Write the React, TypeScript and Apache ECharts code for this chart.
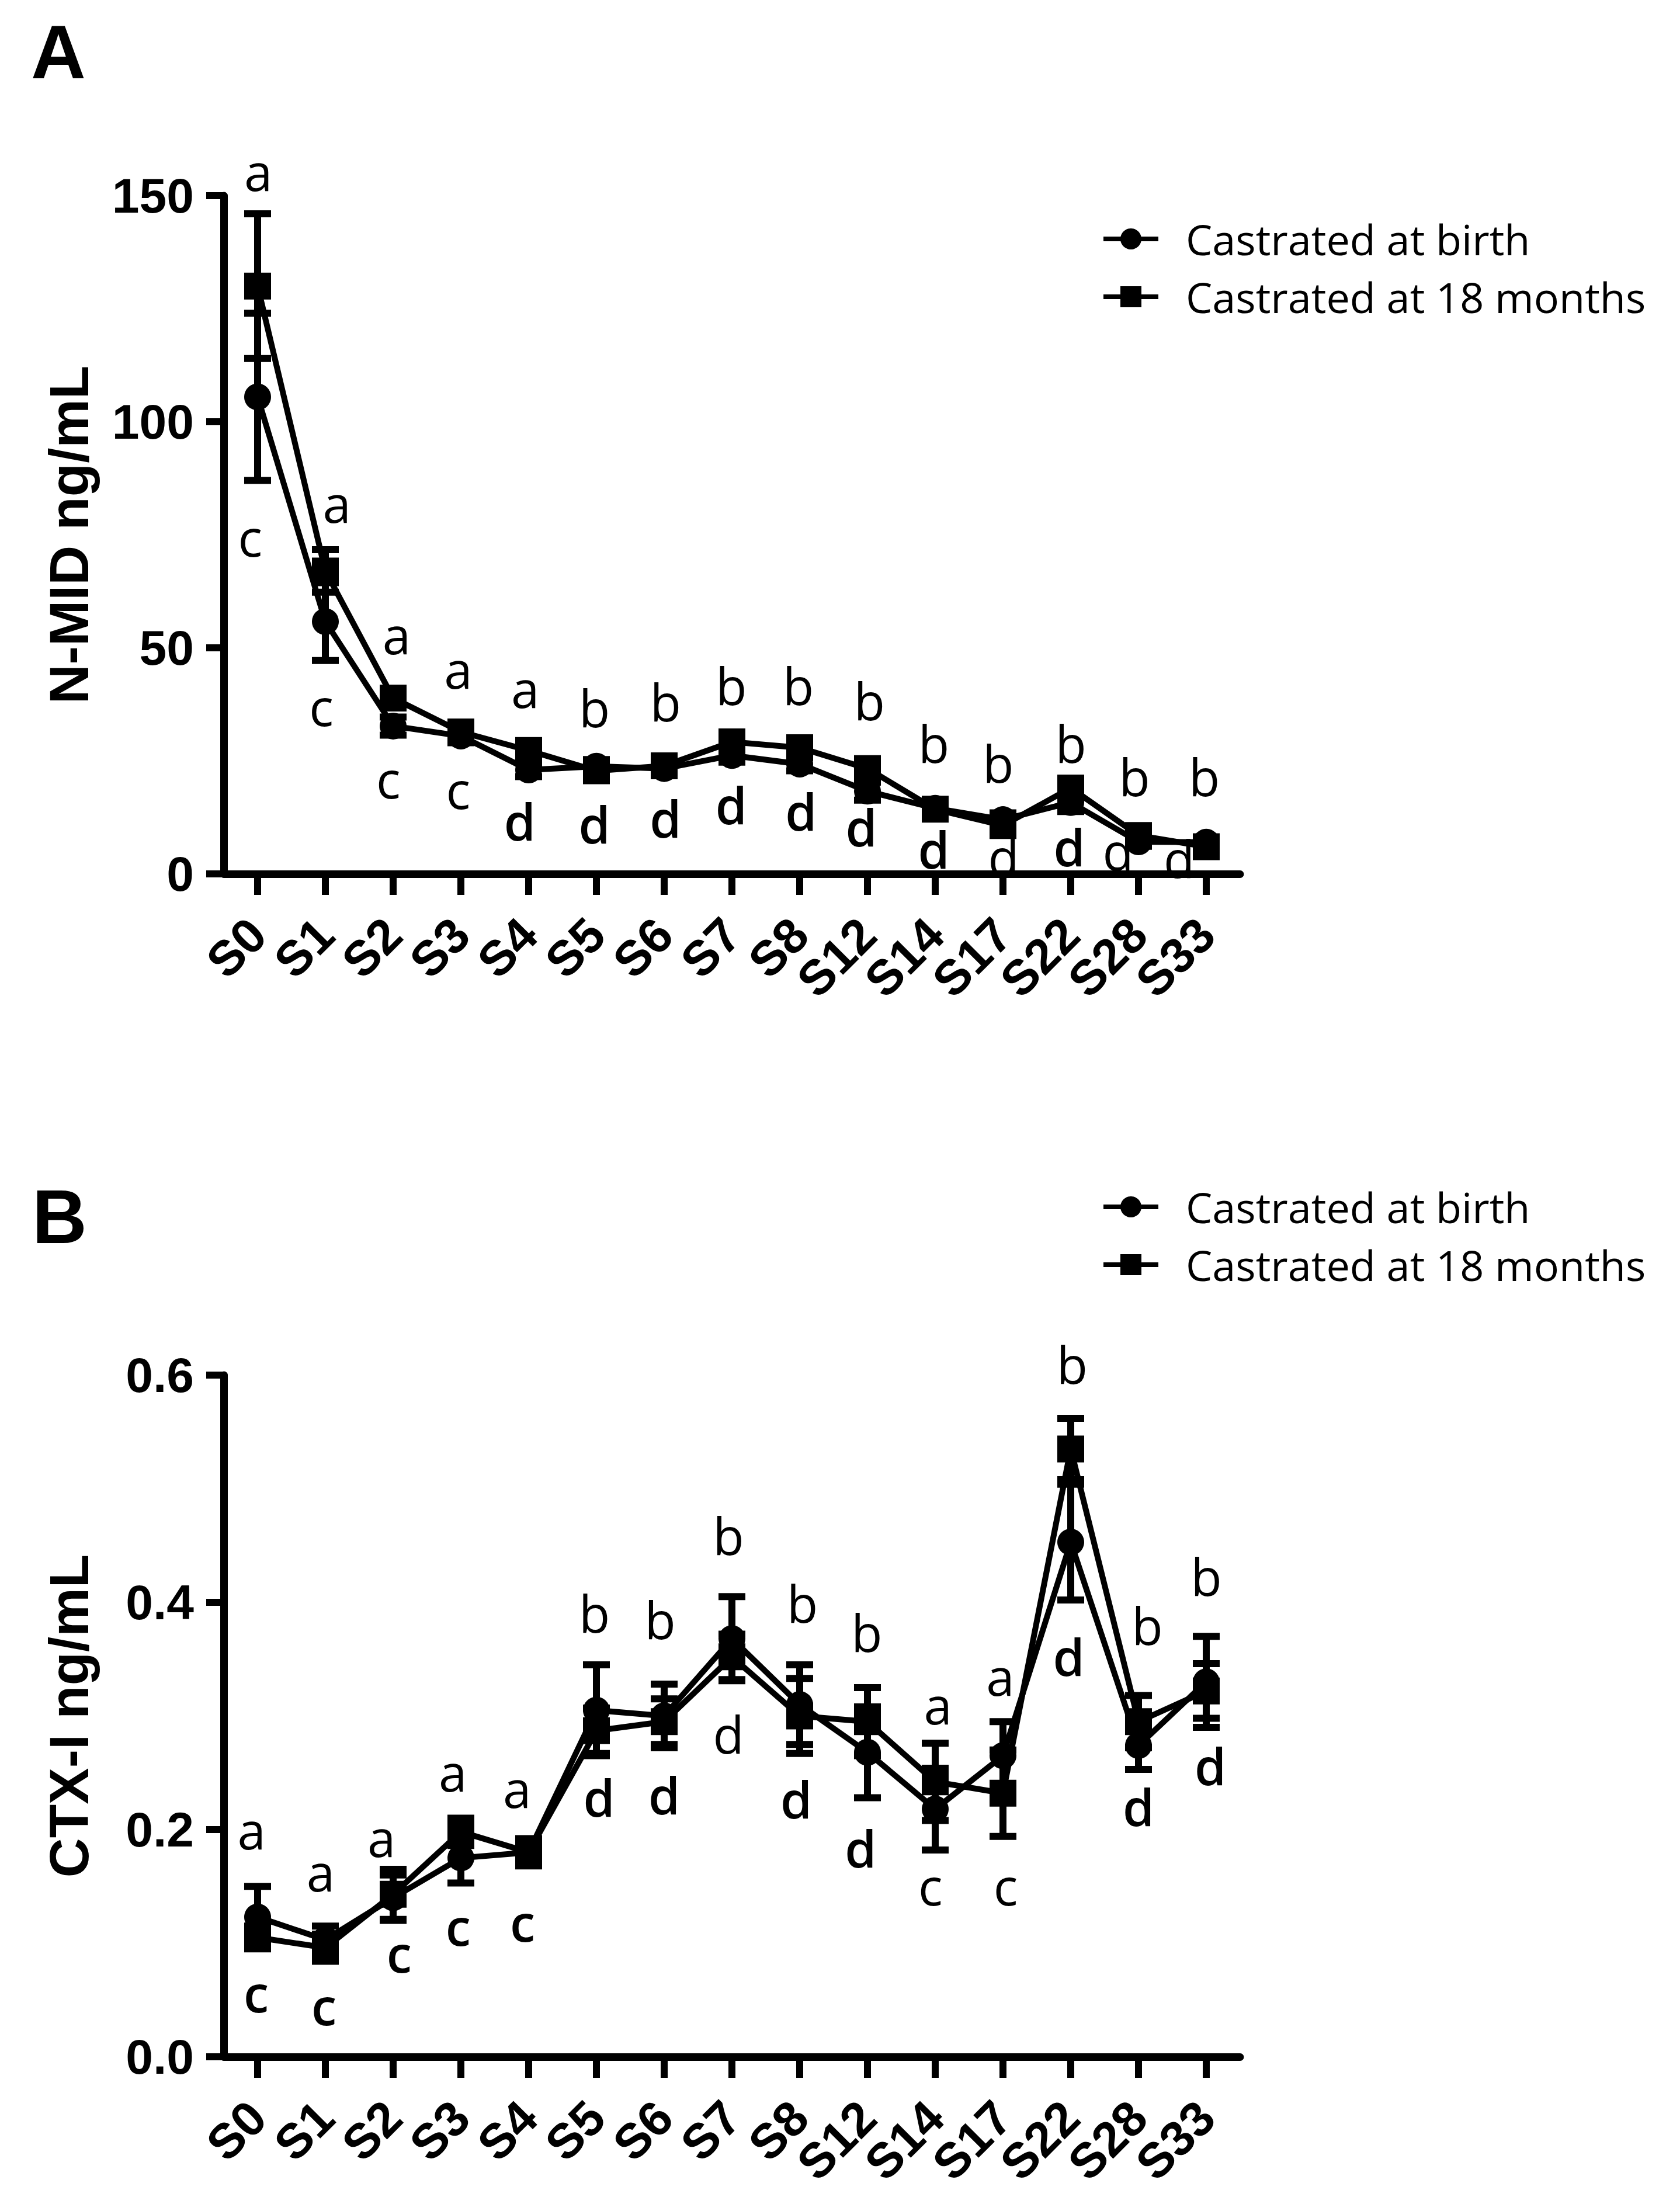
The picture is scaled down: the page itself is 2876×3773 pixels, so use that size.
import React, { useEffect, useRef } from "react";
import * as echarts from "echarts";

const categories = ["S0", "S1", "S2", "S3", "S4", "S5", "S6", "S7", "S8", "S12", "S14", "S17", "S22", "S28", "S33"];
const seriesNames = ["Castrated at birth", "Castrated at 18 months"];

// Panel A: N-MID ng/mL (mean, error)
const nmidBirth = [105.5, 55.8, 32.7, 30.5, 23.0, 23.8, 23.3, 26.2, 24.3, 18.3, 14.5, 12.0, 15.8, 7.1, 7.0];
const nmidBirthErr = [18.5, 8.6, 2.0, 1.5, 1.5, 1.5, 1.5, 1.5, 1.5, 2.0, 1.5, 1.5, 2.0, 1.0, 1.0];
const nmid18m = [130.0, 67.0, 38.9, 31.4, 27.3, 22.8, 23.9, 29.2, 27.9, 23.3, 14.3, 10.7, 19.0, 8.5, 6.0];
const nmid18mErr = [16.0, 4.7, 2.0, 1.5, 1.5, 1.5, 1.5, 1.5, 1.5, 2.0, 1.5, 1.5, 2.0, 1.0, 1.0];
const nmidTicks = [0, 50, 100, 150];

// Panel B: CTX-I ng/mL (mean, error)
const ctxBirth = [0.123, 0.103, 0.14, 0.175, 0.18, 0.305, 0.3, 0.368, 0.31, 0.268, 0.218, 0.265, 0.453, 0.274, 0.33];
const ctxBirthErr = [0.027, 0.012, 0.02, 0.022, 0.01, 0.04, 0.028, 0.037, 0.035, 0.04, 0.036, 0.03, 0.051, 0.021, 0.04];
const ctx18m = [0.105, 0.096, 0.143, 0.198, 0.18, 0.287, 0.295, 0.352, 0.3, 0.295, 0.242, 0.232, 0.535, 0.295, 0.322];
const ctx18mErr = [0.01, 0.012, 0.022, 0.012, 0.012, 0.02, 0.02, 0.02, 0.033, 0.03, 0.034, 0.038, 0.027, 0.023, 0.024];
const ctxTicks = [0, 0.2, 0.4, 0.6];

// Significance letters: letter, x offset (category units), y value, bold flag
const lettersATop = ["a", "a", "a", "a", "a", "b", "b", "b", "b", "b", "b", "b", "b", "b", "b"];
const lettersATopY = [155.4, 82, 53, 45.3, 41.1, 36.8, 38.1, 41.7, 41.7, 38.4, 28.9, 24.6, 28.9, 21.6, 21.6];
const lettersATopDx = [0.01, 0.17, 0.05, -0.04, -0.05, -0.03, 0.02, -0.01, -0.02, 0.03, -0.02, -0.07, 0, -0.06, -0.03];
const lettersABot = ["c", "c", "c", "c", "d", "d", "d", "d", "d", "d", "d", "d", "d", "d", "d"];
const lettersABotY = [74.6, 37.1, 21, 18.7, 11.8, 11.1, 12.4, 15.4, 14, 10.5, 5.5, 3.9, 6.1, 5.2, 3.5];
const lettersABotDx = [-0.11, -0.06, -0.07, -0.04, -0.13, -0.03, 0.02, -0.01, 0.02, -0.09, -0.02, 0.01, -0.02, -0.3, -0.4];
const lettersABotBold = [0, 0, 0, 0, 1, 1, 1, 1, 1, 1, 1, 0, 1, 0, 0];

const lettersBTop = ["a", "a", "a", "a", "a", "b", "b", "b", "b", "b", "a", "a", "b", "b", "b"];
const lettersBTopY = [0.1998, 0.163, 0.1934, 0.2507, 0.2364, 0.391, 0.385, 0.459, 0.3997, 0.374, 0.31, 0.3354, 0.61, 0.38, 0.423];
const lettersBTopDx = [-0.09, -0.07, -0.17, -0.12, -0.17, -0.03, -0.06, -0.05, 0.04, -0.01, 0.04, -0.04, 0.02, 0.13, 0];
const lettersBBot = ["c", "c", "c", "c", "c", "d", "d", "d", "d", "d", "c", "c", "d", "d", "d"];
const lettersBBotY = [0.0565, 0.045, 0.0914, 0.1153, 0.1187, 0.229, 0.231, 0.2845, 0.227, 0.184, 0.1505, 0.1505, 0.3526, 0.2206, 0.2568];
const lettersBBotDx = [-0.02, -0.02, 0.09, -0.04, -0.09, 0.04, 0, -0.05, -0.05, -0.1, -0.07, 0.04, -0.03, 0, 0.06];
const lettersBBotBold = [1, 1, 1, 1, 1, 1, 1, 0, 1, 1, 0, 0, 1, 1, 1];

const ARIAL = "Liberation Sans";
const CAL = "Open Sans";

function errData(mean: number[], err: number[]) {
  return mean.map((m, i) => [i, m - err[i], m + err[i]]);
}

function letterData(letters: string[], ys: number[], dx: number[], bold?: number[]) {
  return letters.map((l, i) => ({
    name: l,
    value: [i + dx[i], ys[i]],
    label: { fontWeight: bold && bold[i] ? 600 : "normal" },
  }));
}

const errRender = (params: any, api: any) => {
  const x = api.value(0);
  const lo = api.value(1);
  const hi = api.value(2);
  const pLo = api.coord([x, lo]);
  const pHi = api.coord([x, hi]);
  const hw = 23;
  const style = { stroke: "#000", lineWidth: 12, fill: "none" };
  return {
    type: "group",
    children: [
      { type: "line", shape: { x1: pLo[0], y1: pLo[1], x2: pHi[0], y2: pHi[1] }, style },
      { type: "line", shape: { x1: pLo[0] - hw, y1: pLo[1], x2: pLo[0] + hw, y2: pLo[1] }, style },
      { type: "line", shape: { x1: pHi[0] - hw, y1: pHi[1], x2: pHi[0] + hw, y2: pHi[1] }, style },
    ],
  };
};

export default function App() {
  const ref = useRef<HTMLDivElement>(null);
  useEffect(() => {
    document.body.style.margin = "0";
    const chart = echarts.init(ref.current!, null, { renderer: "svg" });

    const xAxisBase = (gridIndex: number) => ({
      type: "category",
      gridIndex,
      data: categories,
      boundaryGap: true,
      axisLine: { show: true, onZero: false, lineStyle: { color: "#000", width: 13 } },
      axisTick: { show: true, alignWithLabel: true, length: 36, lineStyle: { color: "#000", width: 12 } },
      axisLabel: {
        interval: 0,
        rotate: 45,
        margin: 90,
        color: "#000",
        fontFamily: ARIAL,
        fontWeight: "bold",
        fontSize: 84,
      },
      splitLine: { show: false },
    });

    const yAxisBase = (gridIndex: number, ticks: number[], name: string, dec: number) => ({
      type: "value",
      gridIndex,
      min: ticks[0],
      max: ticks[ticks.length - 1],
      interval: ticks[1] - ticks[0],
      name,
      nameLocation: "middle",
      nameGap: 218,
      nameTextStyle: { color: "#000", fontFamily: ARIAL, fontWeight: "bold", fontSize: 94 },
      axisLine: { show: true, onZero: false, lineStyle: { color: "#000", width: 13 } },
      axisTick: { show: true, length: 30, lineStyle: { color: "#000", width: 12 } },
      axisLabel: {
        margin: 51,
        color: "#000",
        fontFamily: ARIAL,
        fontWeight: "bold",
        fontSize: 84,
        formatter: (v: number) => v.toFixed(dec),
      },
      splitLine: { show: false },
    });

    const lineSeries = (name: string, symbol: string, data: number[], gi: number) => ({
      type: "line",
      name,
      xAxisIndex: gi,
      yAxisIndex: gi,
      data,
      symbol,
      symbolSize: 46,
      showSymbol: true,
      itemStyle: { color: "#000", opacity: 1 },
      lineStyle: { color: "#000", width: 10 },
      z: 3,
    });

    const errSeries = (mean: number[], err: number[], gi: number) => ({
      type: "custom",
      xAxisIndex: gi,
      yAxisIndex: gi,
      data: errData(mean, err),
      encode: { x: 0, y: [1, 2] },
      renderItem: errRender,
      silent: true,
      clip: false,
      z: 2,
    });

    const letterSeries = (data: any[], gi: number) => ({
      type: "scatter",
      xAxisIndex: gi + 2,
      yAxisIndex: gi,
      data,
      symbolSize: 1,
      clip: false,
      itemStyle: { color: "#fff", opacity: 1 },
      silent: true,
      z: 5,
      label: {
        show: true,
        position: "inside",
        formatter: (p: any) => p.name,
        color: "#000",
        opacity: 1,
        fontFamily: CAL,
        fontSize: 87,
      },
    });

    const legendBase = (top: number) => ({
      orient: "vertical",
      left: 1885,
      top,
      padding: 0,
      itemWidth: 94,
      itemHeight: 45,
      itemGap: 27,
      data: seriesNames,
      selectedMode: false,
      lineStyle: { width: 8 },
      textStyle: { color: "#000", fontFamily: CAL, fontSize: 72, padding: [0, 0, 0, 42] },
    });

    const hiddenX = (gridIndex: number) => ({
      type: "value",
      gridIndex,
      min: -0.5,
      max: 14.5,
      show: false,
      axisLine: { onZero: false },
    });

    chart.setOption({
      animation: false,
      backgroundColor: "#fff",
      textStyle: { fontFamily: ARIAL },
      grid: [
        { left: 383, top: 335, width: 1740, height: 1161 },
        { left: 383, top: 2354, width: 1740, height: 1167 },
      ],
      xAxis: [xAxisBase(0), xAxisBase(1), hiddenX(0), hiddenX(1)],
      yAxis: [yAxisBase(0, nmidTicks, "N-MID ng/mL", 0), yAxisBase(1, ctxTicks, "CTX-I ng/mL", 1)],
      legend: [legendBase(373), legendBase(2030)],
      graphic: [
        { type: "text", left: 53, top: 24, style: { text: "A", font: `bold 130px "${ARIAL}"`, fill: "#000" } },
        { type: "text", left: 55, top: 2018, style: { text: "B", font: `bold 130px "${ARIAL}"`, fill: "#000" } },
      ],
      series: [
        errSeries(nmidBirth, nmidBirthErr, 0),
        errSeries(nmid18m, nmid18mErr, 0),
        lineSeries(seriesNames[0], "circle", nmidBirth, 0),
        lineSeries(seriesNames[1], "rect", nmid18m, 0),
        errSeries(ctxBirth, ctxBirthErr, 1),
        errSeries(ctx18m, ctx18mErr, 1),
        lineSeries(seriesNames[0], "circle", ctxBirth, 1),
        lineSeries(seriesNames[1], "rect", ctx18m, 1),
        letterSeries(letterData(lettersATop, lettersATopY, lettersATopDx), 0),
        letterSeries(letterData(lettersABot, lettersABotY, lettersABotDx, lettersABotBold), 0),
        letterSeries(letterData(lettersBTop, lettersBTopY, lettersBTopDx), 1),
        letterSeries(letterData(lettersBBot, lettersBBotY, lettersBBotDx, lettersBBotBold), 1),
      ],
    });
    return () => chart.dispose();
  }, []);
  return <div ref={ref} style={{ position: "absolute", left: 0, top: 0, width: 2876, height: 3773, background: "#fff" }} />;
}
